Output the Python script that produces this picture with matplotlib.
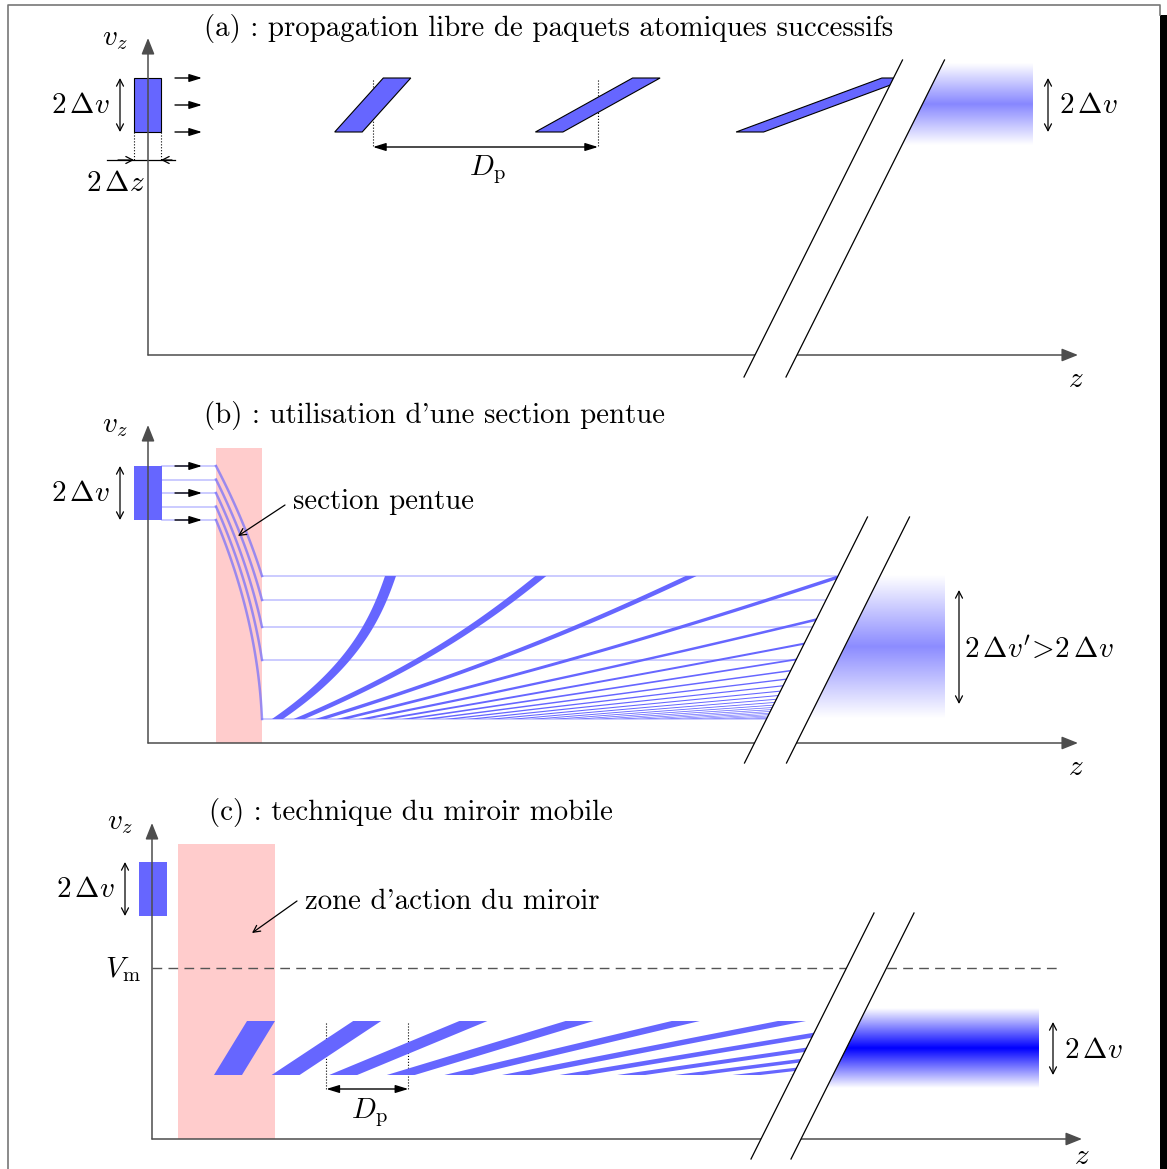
import numpy as np
import matplotlib
matplotlib.use("Agg")
import matplotlib.pyplot as plt
from matplotlib.patches import Polygon, Rectangle

plt.rcParams['mathtext.fontset'] = 'cm'

# ---------------------------------------------------------------- data
titles = ["(a) : propagation libre de paquets atomiques successifs",
          "(b) : utilisation d'une section pentue",
          "(c) : technique du miroir mobile"]
v_band = [223, 277]          # initial velocity class  v0 -/+ dv
z_band = [-14, 14]           # initial position spread  -/+ dz
# (a) free propagation
a_times = [0.9, 1.8, 2.7]
a_dp_times = [0.9, 1.8]
a_arrow_v = [277, 250, 223]
# (b) sloped section
b_v_in = [277, 263.5, 250, 236.5, 223]
b_v_out = [167, 143, 116, 83, 24]
b_slope_z = [68, 114]
b_first_packet_z = [10, 123]     # offset after the slope, slowest / fastest atoms
b_times = [0.0, 0.9, 1.8, 2.7, 3.6, 4.5, 5.4, 6.3, 7.2, 8.1, 9.0, 9.9,
           10.8, 11.7, 12.6, 13.5, 14.4, 15.3, 16.2, 17.1, 18.0, 18.9, 19.8]
# (c) moving mirror
c_mirror_z = [26, 123]
c_vm = 171
c_v_refl = [64, 118]
c_first_packet_z = [62, 95]      # slowest / fastest edge of first reflected packet
c_times = [0.0, 0.9, 1.8, 2.7, 3.6, 4.5, 5.4, 6.3, 7.2, 8.1, 9.0]
c_dp_times = [0.9, 1.8]

# ---------------------------------------------------------------- style
W, H = 1167, 1169
BLUE = '#6666ff'
PINK = '#ffcccc'
AXC = '#4d4d4d'
TXT = dict(family='cmr10', fontsize=20.8, color='k')
MATH = dict(fontsize=21, color='k')

fig = plt.figure(figsize=(W / 100, H / 100), dpi=100)

# frame
fr = fig.add_axes([0, 0, 1, 1])
fr.set_xlim(0, W); fr.set_ylim(H, 0); fr.axis('off')
fr.plot([7.5, 7.5, 1159.5, 1159.5], [H + 5, 4.5, 4.5, 15], color='#777777', lw=1.2)
fr.add_patch(Rectangle((1160, 15), 8, H, fc='black', ec='none'))


def panel(ox, oy):
    a = fig.add_axes([0, 0, 1, 1])
    a.axis('off')
    a.patch.set_alpha(0)
    a._lims = (-ox, W - ox, oy - H, oy)
    return a


def fix(a):
    x0, x1, y0, y1 = a._lims
    a.set_xlim(x0, x1); a.set_ylim(y0, y1)


def arrow(a, p0, p1, style, lw=1.0, color='k', ms=14, z=6):
    a.annotate('', xy=p1, xytext=p0,
               arrowprops=dict(arrowstyle=style, color=color, lw=lw,
                               shrinkA=0, shrinkB=0, mutation_scale=ms),
               zorder=z)


def axes_arrows(a, vtop, zend):
    arrow(a, (0, 0), (0, vtop), '-|>,head_length=0.55,head_width=0.22', lw=1.1, color=AXC, ms=18)
    arrow(a, (0, 0), (zend, 0), '-|>,head_length=0.55,head_width=0.22', lw=1.1, color=AXC, ms=18)


def left_clip(a, zc):
    return Polygon([(-400, -300), (zc - 150, -300), (zc + 300, 600), (-400, 600)],
                   closed=True, transform=a.transData)


def right_clip(a, zc):
    return Polygon([(zc - 150, -300), (3000, -300), (3000, 600), (zc + 300, 600)],
                   closed=True, transform=a.transData)


def brk(a, zc1, zc2, vlo, vhi):
    a.add_patch(Polygon([(zc1 + 0.5 * vlo, vlo), (zc2 + 0.5 * vlo, vlo),
                         (zc2 + 0.5 * vhi, vhi), (zc1 + 0.5 * vhi, vhi)],
                        closed=True, fc='white', ec='none', zorder=8))
    for zc in (zc1, zc2):
        a.plot([zc + 0.5 * vlo, zc + 0.5 * vhi], [vlo, vhi], color='k', lw=0.9, zorder=9)


def blob(a, zc2, zmax, vlo, vhi, peak):
    d = np.linspace(-1, 1, 301)
    f = 1 - np.abs(d)
    rgb = 1 - f[:, None] * (1 - np.array(peak))[None, :]
    im = a.imshow(rgb[:, None, :], extent=(zc2 + 0.5 * vlo - 5, zmax, vlo, vhi),
                  origin='lower', aspect='auto', interpolation='bilinear', zorder=2)
    im.set_clip_path(right_clip(a, zc2))


def para(a, zb, zt, vlo, vhi, w, **kw):
    return Polygon([(zb, vlo), (zb + w, vlo), (zt + w, vhi), (zt, vhi)], closed=True, **kw)


# ================================================================ panel (a)
A = panel(148, 355)
axes_arrows(A, 317, 930)
A.text(56, 319, titles[0], ha='left', va='baseline', **TXT)
A.text(-33, 317, r'$v_z$', ha='center', va='center', **MATH)
A.text(928, -24, r'$z$', ha='center', va='center', **MATH)
# initial packet
A.add_patch(Rectangle((z_band[0], v_band[0]), z_band[1] - z_band[0] - 1, v_band[1] - v_band[0],
                      fc=BLUE, ec='k', lw=0.8, zorder=4))
for v in a_arrow_v:
    arrow(A, (27, v), (54, v), '-|>,head_length=0.55,head_width=0.17', lw=1.0, ms=14)
arrow(A, (-28, v_band[0]), (-28, v_band[1]), '<->,head_length=0.35,head_width=0.18', lw=0.9, ms=14)
A.text(-38, 250, r'$2\,\Delta v$', ha='right', va='center', **MATH)
for z in (z_band[0], z_band[1] - 1):
    A.plot([z, z], [v_band[0], 195], ls=':', color='k', lw=0.8)
A.plot([-41, 27], [195, 195], color='k', lw=0.9)
arrow(A, (-30, 195), (z_band[0], 195), '->,head_length=0.35,head_width=0.18', lw=0.9, ms=14)
arrow(A, (24, 195), (z_band[1] - 1, 195), '->,head_length=0.35,head_width=0.18', lw=0.9, ms=14)
A.text(-33, 172, r'$2\,\Delta z$', ha='center', va='center', **MATH)
# free-flight packets
for t in a_times:
    zb = z_band[0] + v_band[0] * t
    zt = z_band[0] + v_band[1] * t
    p = para(A, zb, zt, v_band[0], v_band[1], 27.5, fc=BLUE, ec='k', lw=0.8, zorder=4)
    A.add_patch(p)
vm = 0.5 * (v_band[0] + v_band[1])
zc_dp = [vm * t for t in a_dp_times]
for z in zc_dp:
    A.plot([z, z], [275, 208], ls=':', color='k', lw=0.8)
arrow(A, (zc_dp[0], 208), (zc_dp[1], 208), '<|-|>,head_length=0.55,head_width=0.17', lw=1.0, ms=14)
A.text(0.5 * (zc_dp[0] + zc_dp[1]) + 2, 185, r'$D_\mathrm{p}$', ha='center', va='center', **MATH)
blob(A, 649, 885, 210, 292, (0.53, 0.53, 1.0))
arrow(A, (900, v_band[0]), (900, v_band[1]), '<->,head_length=0.35,head_width=0.18', lw=0.9, ms=14)
A.text(911, 250, r'$2\,\Delta v$', ha='left', va='center', **MATH)
brk(A, 607, 649, -22, 295)

# ================================================================ panel (b)
B = panel(148, 743)
B.add_patch(Rectangle((b_slope_z[0], 0), b_slope_z[1] - b_slope_z[0], 295, fc=PINK, ec='none', zorder=1))
axes_arrows(B, 318, 930)
B.text(56, 320, titles[1], ha='left', va='baseline', **TXT)
B.text(-33, 318, r'$v_z$', ha='center', va='center', **MATH)
B.text(928, -24, r'$z$', ha='center', va='center', **MATH)
B.add_patch(Rectangle((z_band[0], v_band[0]), z_band[1] - z_band[0], v_band[1] - v_band[0],
                      fc=BLUE, ec='none', zorder=4))
arrow(B, (-28, v_band[0]), (-28, v_band[1]), '<->,head_length=0.35,head_width=0.18', lw=0.9, ms=14)
B.text(-38, 250, r'$2\,\Delta v$', ha='right', va='center', **MATH)
clipB = left_clip(B, 606.5)
zs0, zs1 = b_slope_z
for v0, vf in zip(b_v_in, b_v_out):
    B.plot([z_band[1], zs0], [v0, v0], color=BLUE, alpha=0.4, lw=1.2, zorder=3)
    zz = np.linspace(zs0, zs1, 80)
    vv = np.sqrt(v0 ** 2 - (v0 ** 2 - vf ** 2) * (zz - zs0) / (zs1 - zs0))
    B.plot(zz, vv, color=BLUE, alpha=0.65, lw=1.8, zorder=3)
    ln, = B.plot([zs1, 900], [vf, vf], color=BLUE, alpha=0.4, lw=1.2, zorder=3)
    ln.set_clip_path(clipB)
for v in a_arrow_v:
    arrow(B, (27, v), (54, v), '-|>,head_length=0.55,head_width=0.17', lw=1.0, ms=14)
vlo, vhi = min(b_v_out), max(b_v_out)
vv = np.linspace(vlo, vhi, 160)
u = (vv - vlo) / (vhi - vlo)
shape = 0.56 * (1 - (1 - u) ** 2.5) + 0.44 * u
h = b_first_packet_z[0] + (b_first_packet_z[1] - b_first_packet_z[0]) * shape
for t in b_times:
    zl = zs1 + h + vv * t
    pts = np.vstack([np.column_stack([zl, vv]), np.column_stack([zl[::-1] + 11, vv[::-1]])])
    p = Polygon(pts, closed=True, fc=BLUE, ec='none', zorder=4)
    B.add_patch(p)
    p.set_clip_path(left_clip(B, 606.5))
B.text(145, 241, 'section pentue', ha='left', va='center', **TXT)
arrow(B, (137, 238), (90, 207), '->,head_length=0.35,head_width=0.18', lw=0.9, ms=14)
blob(B, 648.5, 797, 25, 167, (0.55, 0.55, 1.0))
arrow(B, (811, 39), (811, 153), '<->,head_length=0.35,head_width=0.18', lw=0.9, ms=14)
B.text(816, 93, r"$2\,\Delta v'\!>\!2\,\Delta v$", ha='left', va='center', **MATH)
brk(B, 606.5, 648.5, -20, 226)

# ================================================================ panel (c)
C = panel(152, 1139)
C.add_patch(Rectangle((c_mirror_z[0], 0), c_mirror_z[1] - c_mirror_z[0], 295, fc=PINK, ec='none', zorder=1))
axes_arrows(C, 316, 930)
C.text(57, 319, titles[2], ha='left', va='baseline', **TXT)
C.text(-32, 317, r'$v_z$', ha='center', va='center', **MATH)
C.text(930, -17, r'$z$', ha='center', va='center', **MATH)
C.add_patch(Rectangle((z_band[0] + 1, v_band[0]), z_band[1] - z_band[0], v_band[1] - v_band[0],
                      fc=BLUE, ec='none', zorder=4))
arrow(C, (-27, v_band[0]), (-27, v_band[1]), '<->,head_length=0.35,head_width=0.18', lw=0.9, ms=14)
C.text(-37, 250, r'$2\,\Delta v$', ha='right', va='center', **MATH)
C.text(153, 237, "zone d'action du miroir", ha='left', va='center', **TXT)
arrow(C, (145, 238), (100, 206), '->,head_length=0.35,head_width=0.18', lw=0.9, ms=14)
C.plot([0, 906], [c_vm, c_vm], color='#555555', lw=1.0, dashes=(7, 4.5), zorder=3)
C.text(-11, c_vm - 2, r'$V_\mathrm{m}$', ha='right', va='center', **MATH)
vlo, vhi = c_v_refl
for t in c_times:
    zb = c_first_packet_z[0] + vlo * t
    zt = c_first_packet_z[1] + vhi * t
    p = para(C, zb, zt, vlo, vhi, 28, fc=BLUE, ec='none', zorder=4)
    C.add_patch(p)
    p.set_clip_path(left_clip(C, 609))
zc_dp = [0.5 * (c_first_packet_z[0] + vlo * t + c_first_packet_z[1] + vhi * t) + 14 for t in c_dp_times]
for z in zc_dp:
    C.plot([z, z], [116, 50], ls=':', color='k', lw=0.8)
arrow(C, (zc_dp[0], 50), (zc_dp[1], 50), '<|-|>,head_length=0.55,head_width=0.17', lw=1.0, ms=14)
C.text(0.5 * (zc_dp[0] + zc_dp[1]) + 2, 26, r'$D_\mathrm{p}$', ha='center', va='center', **MATH)
blob(C, 649, 886, 51, 131, (0.0, 0.0, 1.0))
arrow(C, (901, vlo), (901, vhi - 1), '<->,head_length=0.35,head_width=0.18', lw=0.9, ms=14)
C.text(912, 89, r'$2\,\Delta v$', ha='left', va='center', **MATH)
brk(C, 609, 649, -20, 226)

for a in (A, B, C):
    fix(a)

fig.savefig('out.png', dpi=100)
